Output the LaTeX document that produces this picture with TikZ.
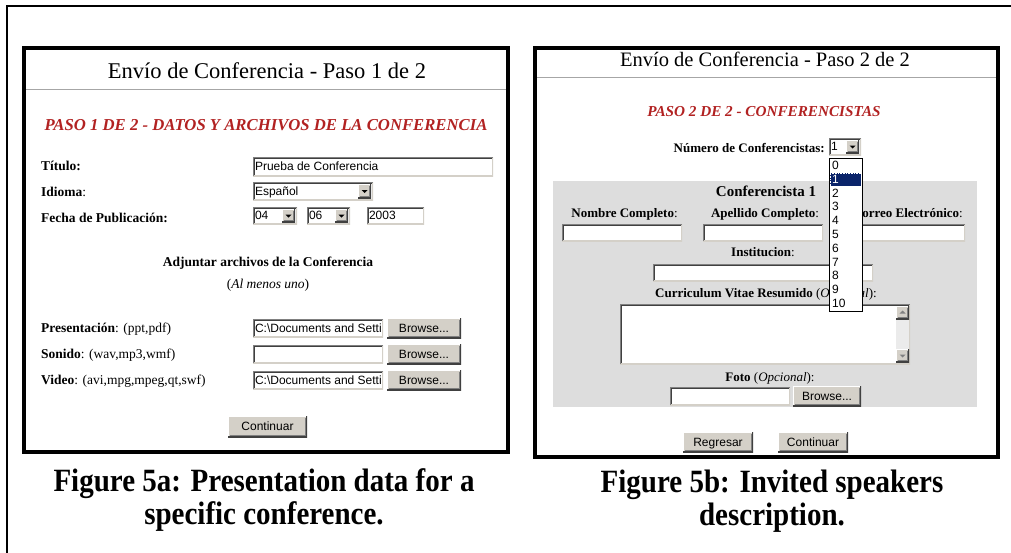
\documentclass[tikz,border=0pt]{standalone}
\usepackage{fontspec}
\setmainfont{Liberation Serif}
\newfontfamily\arial{Liberation Sans}
\definecolor{btn}{RGB}{212,208,200}
\definecolor{hdred}{RGB}{178,34,34}
\definecolor{panelgray}{RGB}{221,221,221}
\definecolor{navysel}{RGB}{10,36,106}
\definecolor{dk}{RGB}{64,64,64}
\definecolor{md}{RGB}{128,128,128}
\newcommand\fbx[2]{\makebox[\dimexpr#1pt-4pt\relax][l]{#2}}
\newcommand\tall[1]{\scalebox{1}[1.12]{#1}}
\newcommand\raisedpp{%
  \draw[line width=2pt, white] (path picture bounding box.south west) |- (path picture bounding box.north east);
  \draw[line width=2pt, black!75] (path picture bounding box.south west) -| (path picture bounding box.north east);
  \draw[line width=1pt, md] ([shift={(1.5pt,1.5pt)}]path picture bounding box.south west) -| ([shift={(-1.5pt,-1.5pt)}]path picture bounding box.north east);}
\newcommand\sunkenpp{%
  \draw[line width=2pt, btn] (path picture bounding box.south west) -| (path picture bounding box.north east);
  \draw[line width=2pt, md] (path picture bounding box.south west) |- (path picture bounding box.north east);
  \draw[line width=1pt, dk] ([shift={(1.5pt,1.5pt)}]path picture bounding box.south west) |- ([shift={(-1.5pt,-1.5pt)}]path picture bounding box.north east);}
\tikzset{
  frameline/.style={line width=2pt},
  panelbox/.style={line width=4pt},
  divider/.style={line width=1.5pt, color=black!35},
  ttl/.style={anchor=base, inner sep=0pt, font=\fontsize{#1}{#1}\selectfont},
  hd/.style={anchor=base, inner sep=0pt, text=hdred, font=\bfseries\itshape\fontsize{#1}{#1}\selectfont},
  lbl/.style={anchor=base west, inner sep=0pt, font=\fontsize{13.5}{16}\selectfont},
  ctr/.style={anchor=base, inner sep=0pt, font=\fontsize{13.5}{16}\selectfont},
  ctrb/.style={anchor=base, inner sep=0pt, font=\fontsize{13}{16}\selectfont},
  fld/.style={anchor=north west, fill=white, inner xsep=2pt, inner ysep=0pt, outer sep=0pt,
    text height=8.6pt, text depth=0pt,
    font=\arial\fontsize{12}{14}\selectfont, path picture={\sunkenpp}},
  btnbox/.style={anchor=north west, fill=btn, inner sep=0pt, outer sep=0pt,
    text height=8.6pt, text depth=0pt,
    font=\arial\fontsize{12}{14}\selectfont, path picture={\raisedpp}},
  ddb/.style={anchor=east, fill=btn, inner sep=0pt, outer sep=0pt, minimum width=13pt,
    path picture={\raisedpp
      \fill[black] ([shift={(-3pt,1pt)}]path picture bounding box.center) -- ([shift={(3pt,1pt)}]path picture bounding box.center) -- ([shift={(0pt,-2pt)}]path picture bounding box.center) -- cycle;}},
  upb/.style={anchor=north west, fill=btn, inner sep=0pt, outer sep=0pt, minimum width=13pt, minimum height=13pt,
    path picture={\raisedpp
      \fill[md] ([shift={(-3pt,-1pt)}]path picture bounding box.center) -- ([shift={(3pt,-1pt)}]path picture bounding box.center) -- ([shift={(0pt,2pt)}]path picture bounding box.center) -- cycle;}},
  dnb/.style={anchor=north west, fill=btn, inner sep=0pt, outer sep=0pt, minimum width=13pt, minimum height=13pt,
    path picture={\raisedpp
      \fill[md] ([shift={(-3pt,1pt)}]path picture bounding box.center) -- ([shift={(3pt,1pt)}]path picture bounding box.center) -- ([shift={(0pt,-2pt)}]path picture bounding box.center) -- cycle;}},
  figcap/.style={anchor=base, inner sep=0pt, font=\bfseries\fontsize{29}{34}\selectfont},
  listitem/.style={anchor=base west, inner sep=0pt, font=\arial\fontsize{12}{14}\selectfont},
}
\begin{document}
\begin{tikzpicture}[x=1pt,y=-1pt]
\useasboundingbox (0,0) rectangle (1011,552);
\fill[white] (0,0) rectangle (1011,552);
\draw[frameline] (7,553) -- (7,6) -- (1012,6);

% ---------------- left panel ----------------
\draw[panelbox] (24,48) rectangle (508,452);
\draw[divider] (26,89.5) -- (506,89.5);
\node[ttl=22.5] (t1) at (267,78) {Envío de Conferencia - Paso 1 de 2};
\node[hd=16.7] (h1) at (266,130) {PASO 1 DE 2 - DATOS Y ARCHIVOS DE LA CONFERENCIA};

\node[lbl] (ltit) at (41,170.5) {\textbf{Título:}};
\node[lbl] (lidi) at (41,196.5) {\textbf{Idioma}:};
\node[lbl] (lfec) at (41,222.5) {\textbf{Fecha de Publicación:}};

\node[fld, minimum height=19pt] (ftit) at (253,157) {\fbx{240}{Prueba de Conferencia}};
\node[fld, minimum height=18pt] (fidi) at (253,182) {\fbx{120}{Español}};
\node[ddb, minimum height=14pt] (bidi) at ([xshift=-2pt]fidi.east) {};
\node[fld, minimum height=17pt] (fday) at (253,207) {\fbx{44}{04}};
\node[ddb, minimum height=13pt] (bday) at ([xshift=-2pt]fday.east) {};
\node[fld, minimum height=17pt] (fmon) at (307,207) {\fbx{43}{06}};
\node[ddb, minimum height=13pt] (bmon) at ([xshift=-2pt]fmon.east) {};
\node[fld, minimum height=17pt] (fyea) at (367,207) {\fbx{57}{2003}};

\node[ctr] (adj) at (268,266.5) {\textbf{Adjuntar archivos de la Conferencia}};
\node[ctr] (alm) at (268,288) {(\textit{Al menos uno})};

\node[lbl] (lpre) at (41,332) {\textbf{Presentación}: (ppt,pdf)};
\node[lbl] (lson) at (41,358.5) {\textbf{Sonido}: (wav,mp3,wmf)};
\node[lbl] (lvid) at (41,384.5) {\textbf{Video}: (avi,mpg,mpeg,qt,swf)};

\node[fld, minimum height=18pt] (fpre) at (253,319) {\fbx{130}{C:\textbackslash Documents and Setti}};
\node[btnbox, minimum width=74pt, minimum height=20pt] (bpre) at (387,318) {Browse...};
\node[fld, minimum height=18pt] (fson) at (253,345) {\fbx{130}{}};
\node[btnbox, minimum width=74pt, minimum height=20pt] (bson) at (387,344) {Browse...};
\node[fld, minimum height=18pt] (fvid) at (253,371) {\fbx{130}{C:\textbackslash Documents and Setti}};
\node[btnbox, minimum width=74pt, minimum height=20pt] (bvid) at (387,370) {Browse...};

\node[btnbox, minimum width=79pt, minimum height=21pt] (cont1) at (228,416) {Continuar};

% ---------------- right panel ----------------
\draw[panelbox] (535,48) rectangle (998,457);
\draw[divider] (537,77.5) -- (996,77.5);
\node[ttl=20.5] (t2) at (765,66) {Envío de Conferencia - Paso 2 de 2};
\node[hd=15.2] (h2) at (764,116) {PASO 2 DE 2 - CONFERENCISTAS};

\node[anchor=base east, inner sep=0pt, font=\fontsize{13}{16}\selectfont] (lnum) at (825,152.5) {\textbf{Número de Conferencistas:}};
\node[fld, minimum height=17pt] (fnum) at (829,138) {\fbx{32}{1}};
\node[ddb, minimum height=13pt] (bnum) at ([xshift=-2pt]fnum.east) {};

\node[fill=panelgray, anchor=north west, minimum width=424pt, minimum height=226pt, inner sep=0pt] (area) at (553,181) {};

\node[anchor=base, inner sep=0pt, font=\fontsize{15}{17}\selectfont] (c1) at (766,196.5) {\textbf{Conferencista 1}};
\node[ctrb] (lnom) at (624.5,217) {\textbf{Nombre Completo}:};
\node[ctrb] (lape) at (765,217) {\textbf{Apellido Completo}:};
\node[anchor=base east, inner sep=0pt, font=\fontsize{13}{16}\selectfont] (lcor) at (963,217) {\textbf{Correo Electrónico}:};
\node[fld, minimum height=17pt] (fnom) at (562,224) {\fbx{120}{}};
\node[fld, minimum height=17pt] (fape) at (703,224) {\fbx{120}{}};
\node[fld, minimum height=17pt] (fcor) at (845,224) {\fbx{120}{}};

\node[ctrb] (lins) at (763,256.5) {\textbf{Institucion}:};
\node[fld, minimum height=17pt] (fins) at (653,264) {\fbx{220}{}};

\node[ctrb] (lcv) at (766,297.5) {\textbf{Curriculum Vitae Resumido} (\textit{Opcional}):};
\node[fld, minimum height=60pt] (fcv) at (620,304) {\fbx{290}{}};
\node[fill=black!8, anchor=north west, minimum width=13pt, minimum height=56pt, inner sep=0pt] (trk) at (896,306) {};
\node[upb] (sup) at (896,306) {};
\node[dnb] (sdn) at (896,349) {};

\node[ctrb] (lfot) at (770,381.5) {\textbf{Foto} (\textit{Opcional}):};
\node[fld, minimum height=18pt] (ffot) at (670,387) {\fbx{120}{}};
\node[btnbox, minimum width=68pt, minimum height=20pt] (bfot) at (793,386) {Browse...};

\node[btnbox, minimum width=70pt, minimum height=20pt] (breg) at (683,432) {Regresar};
\node[btnbox, minimum width=70pt, minimum height=20pt] (cont2) at (778,432) {Continuar};

% dropdown list (overlay)
\node[draw=black, line width=0.8pt, fill=white, anchor=north west, minimum width=33pt, minimum height=153pt, inner sep=0pt] (lst) at (829,158) {};
\node[fill=navysel, draw=white, densely dotted, line width=0.6pt, anchor=north west, minimum width=31pt, minimum height=13.5pt, inner sep=0pt] (sel) at (830,172.5) {};
\foreach \i in {0,2,3,4,5,6,7,8,9,10} {
  \node[listitem] (it\i) at (832,169.5+13.8*\i) {\i};
}
\node[listitem, text=white] (it1) at (832,183.3) {1};

% captions
\node[figcap] (cap1) at (264,491.5) {\tall{Figure 5a: Presentation data for a}};
\node[figcap] (cap1b) at (264,524) {\tall{specific conference.}};
\node[figcap] (cap2) at (772,492.5) {\tall{Figure 5b: Invited speakers}};
\node[figcap] (cap2b) at (772,525) {\tall{description.}};
\end{tikzpicture}
\end{document}
